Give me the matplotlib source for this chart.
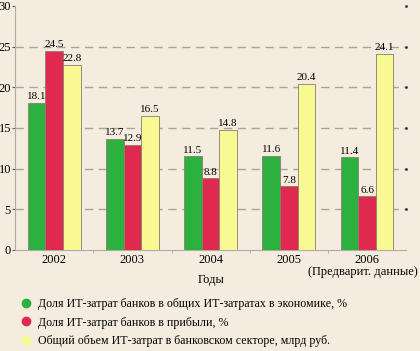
import numpy as np
import matplotlib; matplotlib.use("Agg")
import matplotlib.pyplot as plt
from matplotlib.lines import Line2D

years = ["2002", "2003", "2004", "2005", "2006"]
year_note = "(Предварит. данные)"
share_economy = [18.1, 13.7, 11.5, 11.6, 11.4]
share_profit = [24.5, 12.9, 8.8, 7.8, 6.6]
volume_bln = [22.8, 16.5, 14.8, 20.4, 24.1]
series_names = ["Доля ИТ-затрат банков в общих ИТ-затратах в экономике, %",
                "Доля ИТ-затрат банков в прибыли, %",
                "Общий объем ИТ-затрат в банковском секторе, млрд руб."]
colors = ["#2DB13E", "#E0294F", "#F9F994"]
bg = "#F4EDDF"

plt.rcParams["font.family"] = ["Liberation Serif", "DejaVu Serif"]

fig = plt.figure(figsize=(4.2, 3.51), dpi=100, facecolor=bg)
ax = fig.add_axes([0.036, 0.288, 0.931, 0.695], facecolor=bg)

x = np.arange(len(years))
w = 0.225
for i, vals in enumerate([share_economy, share_profit, volume_bln]):
    bars = ax.bar(x + (i - 1) * w, vals, w, color=colors[i], edgecolor="#8a7f70",
                  linewidth=0.6, zorder=3)
    for b, v in zip(bars, vals):
        ax.text(b.get_x() + b.get_width() / 2, v + 0.2, f"{v:.1f}", ha="center",
                va="bottom", fontsize=8, zorder=4)

ax.set_xlim(-0.5, 4.5)
ax.set_ylim(0, 30)
ax.set_yticks(range(0, 31, 5))
ax.tick_params(axis="y", labelsize=9, length=2, pad=1, color="#555555")
ax.set_xticks(x)
ax.set_xticklabels(years, fontsize=9)
ax.tick_params(axis="x", length=0, pad=3)
ax.set_xticks(np.arange(0.5, 4.5, 1), minor=True)
ax.tick_params(axis="x", which="minor", length=2, color="#aaaaaa")
# note under the last year, right-aligned to the figure edge
fig.text(0.995, 1 - 272 / 351, year_note, ha="right", va="center", fontsize=9)
for v in range(5, 30, 5):
    ax.axhline(v, color="#a8a49c", linestyle=(0, (6, 4)), linewidth=1, zorder=1)
    ax.plot(4.5, v, marker=".", markersize=2, color="#333333", clip_on=False)
ax.plot(4.5, 30, marker=".", markersize=2, color="#333333", clip_on=False)
for s in ["top", "right"]:
    ax.spines[s].set_visible(False)
for s in ["left", "bottom"]:
    ax.spines[s].set_color("#b0aca4")
ax.set_xlabel("Годы", fontsize=9, labelpad=6)

handles = [Line2D([], [], marker="o", linestyle="", markersize=6, color=c,
                  markeredgecolor=c) for c in colors]
fig.legend(handles, series_names, loc="upper left", bbox_to_anchor=(0.03, 0.168),
           frameon=False, fontsize=8.6, handletextpad=0.45, labelspacing=0.55,
           borderpad=0, handlelength=1.2)

fig.savefig("out.png", dpi=100, facecolor=bg)
